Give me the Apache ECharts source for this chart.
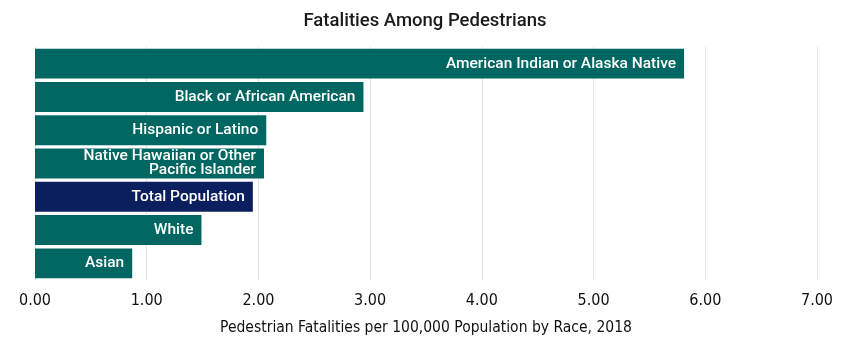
<!DOCTYPE html>
<html><head><meta charset="utf-8">
<script src="https://cdn.jsdelivr.net/npm/echarts@6/dist/echarts.min.js"></script>
<style>html,body{margin:0;padding:0;background:#fff}#c{width:850px;height:340px}</style>
</head><body><div id="c"></div>
<script>
const categories = ["American Indian or Alaska Native","Black or African American","Hispanic or Latino","Native Hawaiian or Other\nPacific Islander","Total Population","White","Asian"];
const values = [5.81, 2.94, 2.07, 2.05, 1.95, 1.49, 0.87];
const highlight = "Total Population";
const tickLabels = ["0.00","1.00","2.00","3.00","4.00","5.00","6.00","7.00"];

const condensed = "'DejaVu Sans Condensed', 'DejaVu Sans', sans-serif";
const chart = echarts.init(document.getElementById('c'));
chart.setOption({
  animation: false,
  title: {text: "Fatalities Among Pedestrians", left: 'center', top: 7,
    textStyle: {fontFamily: "Roboto", fontSize: 18.5, fontWeight: 500, color: '#1a1a1a'}},
  grid: {left: 35, right: 33, top: 47, bottom: 60, containLabel: false, outerBoundsMode: 'none'},
  xAxis: {type: 'value', min: 0, max: 7, interval: 1,
    axisLine: {show: false}, axisTick: {show: false},
    splitLine: {lineStyle: {color: '#e2e2e2', width: 1}},
    axisLabel: {formatter: v => tickLabels[Math.round(v)], fontFamily: condensed, fontSize: 16, color: '#111', margin: 13},
    name: "Pedestrian Fatalities per 100,000 Population by Race, 2018",
    nameLocation: 'middle', nameGap: 40,
    nameTextStyle: {fontFamily: condensed, fontSize: 15.5, color: '#111'}},
  yAxis: {type: 'category', data: categories, inverse: true,
    axisLine: {show: false}, axisTick: {show: false}, axisLabel: {show: false}},
  series: [{type: 'bar', barCategoryGap: '10%',
    data: values.map((v, i) => ({value: v, itemStyle: {color: categories[i] === highlight ? '#0b1f5e' : '#006661'}})),
    label: {show: true, position: 'insideRight', distance: 8,
      formatter: p => categories[p.dataIndex], color: '#fff', fontFamily: "Roboto", fontWeight: 500, fontSize: 15.5,
      align: 'right', lineHeight: 14}
  }]
});
</script></body></html>
